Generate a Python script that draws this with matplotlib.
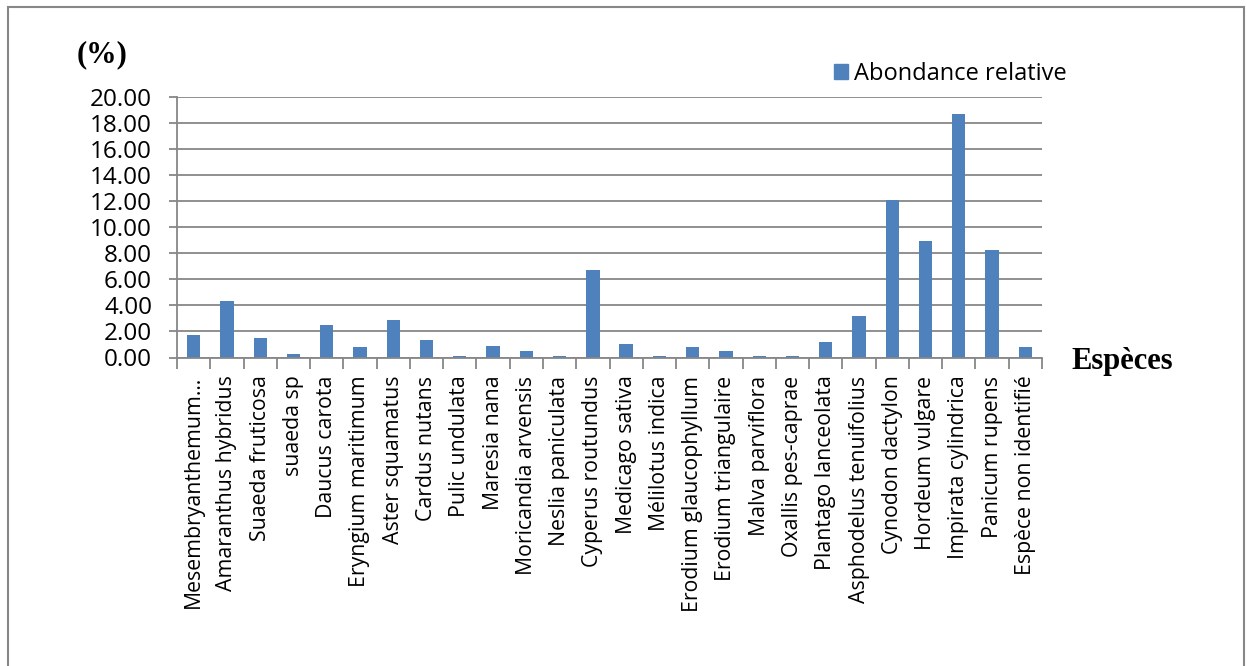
import matplotlib
matplotlib.use('Agg')
import matplotlib.pyplot as plt
from matplotlib.patches import Rectangle, Patch
import numpy as np

especes = ['Mesembryanthemum…', 'Amaranthus hybridus', 'Suaeda fruticosa', 'suaeda sp',
           'Daucus carota', 'Eryngium maritimum', 'Aster squamatus', 'Cardus nutans',
           'Pulic undulata', 'Maresia nana', 'Moricandia arvensis', 'Neslia paniculata',
           'Cyperus routundus', 'Medicago sativa', 'Mélilotus indica', 'Erodium glaucophyllum',
           'Erodium triangulaire', 'Malva parviflora', 'Oxallis pes-caprae', 'Plantago lanceolata',
           'Asphodelus tenuifolius', 'Cynodon dactylon', 'Hordeum vulgare', 'Impirata cylindrica',
           'Panicum rupens', 'Espèce non identifié']
abondance = [1.76, 4.37, 1.48, 0.26, 2.46, 0.79, 2.86, 1.33, 0.10, 0.92, 0.49, 0.10,
             6.73, 1.07, 0.10, 0.79, 0.49, 0.10, 0.10, 1.18, 3.15, 12.07, 8.93, 18.72,
             8.24, 0.79]
yticks = np.arange(0, 21, 2)

plt.rcParams['font.family'] = ['Open Sans', 'DejaVu Sans']
grey = '#878787'
blue = '#4F81BD'

fig = plt.figure(figsize=(12.47, 6.66), dpi=100)
ax = fig.add_axes([177/1247, 1 - 357.5/666, 865/1247, 260.5/666])

x = np.arange(len(especes))
ax.bar(x, abondance, width=0.4, color=blue, zorder=3)

ax.set_xlim(-0.5, len(especes) - 0.5)
ax.set_ylim(0, 20)
ax.set_yticks(yticks)
ax.set_yticklabels(['%.2f' % v for v in yticks], fontsize=17.5)
ax.tick_params(axis='y', length=6, color=grey, width=1.3, pad=12)
ax.yaxis.grid(True, color=grey, linewidth=1.3, zorder=0)

ax.set_xticks(x)
ax.set_xticklabels(especes, rotation=90, fontsize=15.3, va='top', ha='center')
ax.tick_params(axis='x', which='major', length=0, pad=13)
ax.set_xticks(np.arange(-0.5, len(especes), 1), minor=True)
ax.tick_params(axis='x', which='minor', length=8, color=grey, width=1.3)

for s in ['top', 'right']:
    ax.spines[s].set_visible(False)
for s in ['left', 'bottom']:
    ax.spines[s].set_color(grey)
    ax.spines[s].set_linewidth(1.3)
ax.spines['bottom'].set_zorder(4)

# axis titles in bold serif
fig.text(77/1247, 1 - 55/666, '(%)', fontsize=22, fontweight='bold',
         family='Liberation Serif', va='center', ha='left')
fig.text(1071/1247, 1 - 361/666, 'Espèces', fontsize=22, fontweight='bold',
         family='Liberation Serif', va='center', ha='left')

fig.legend(handles=[Patch(color=blue, label='Abondance relative')],
           loc='center left', bbox_to_anchor=(834/1247, 1 - 74/666),
           frameon=False, fontsize=17, handlelength=0.6, handleheight=0.6,
           handletextpad=0.25, borderaxespad=0, borderpad=0)

# outer frame of the chart area
fig.patches.append(Rectangle((8/1247, -0.05), 1236/1247, 1 - 7/666 + 0.05,
                             transform=fig.transFigure, fill=False,
                             edgecolor=grey, linewidth=1.5))

fig.savefig('out.png', dpi=100, facecolor='white')
